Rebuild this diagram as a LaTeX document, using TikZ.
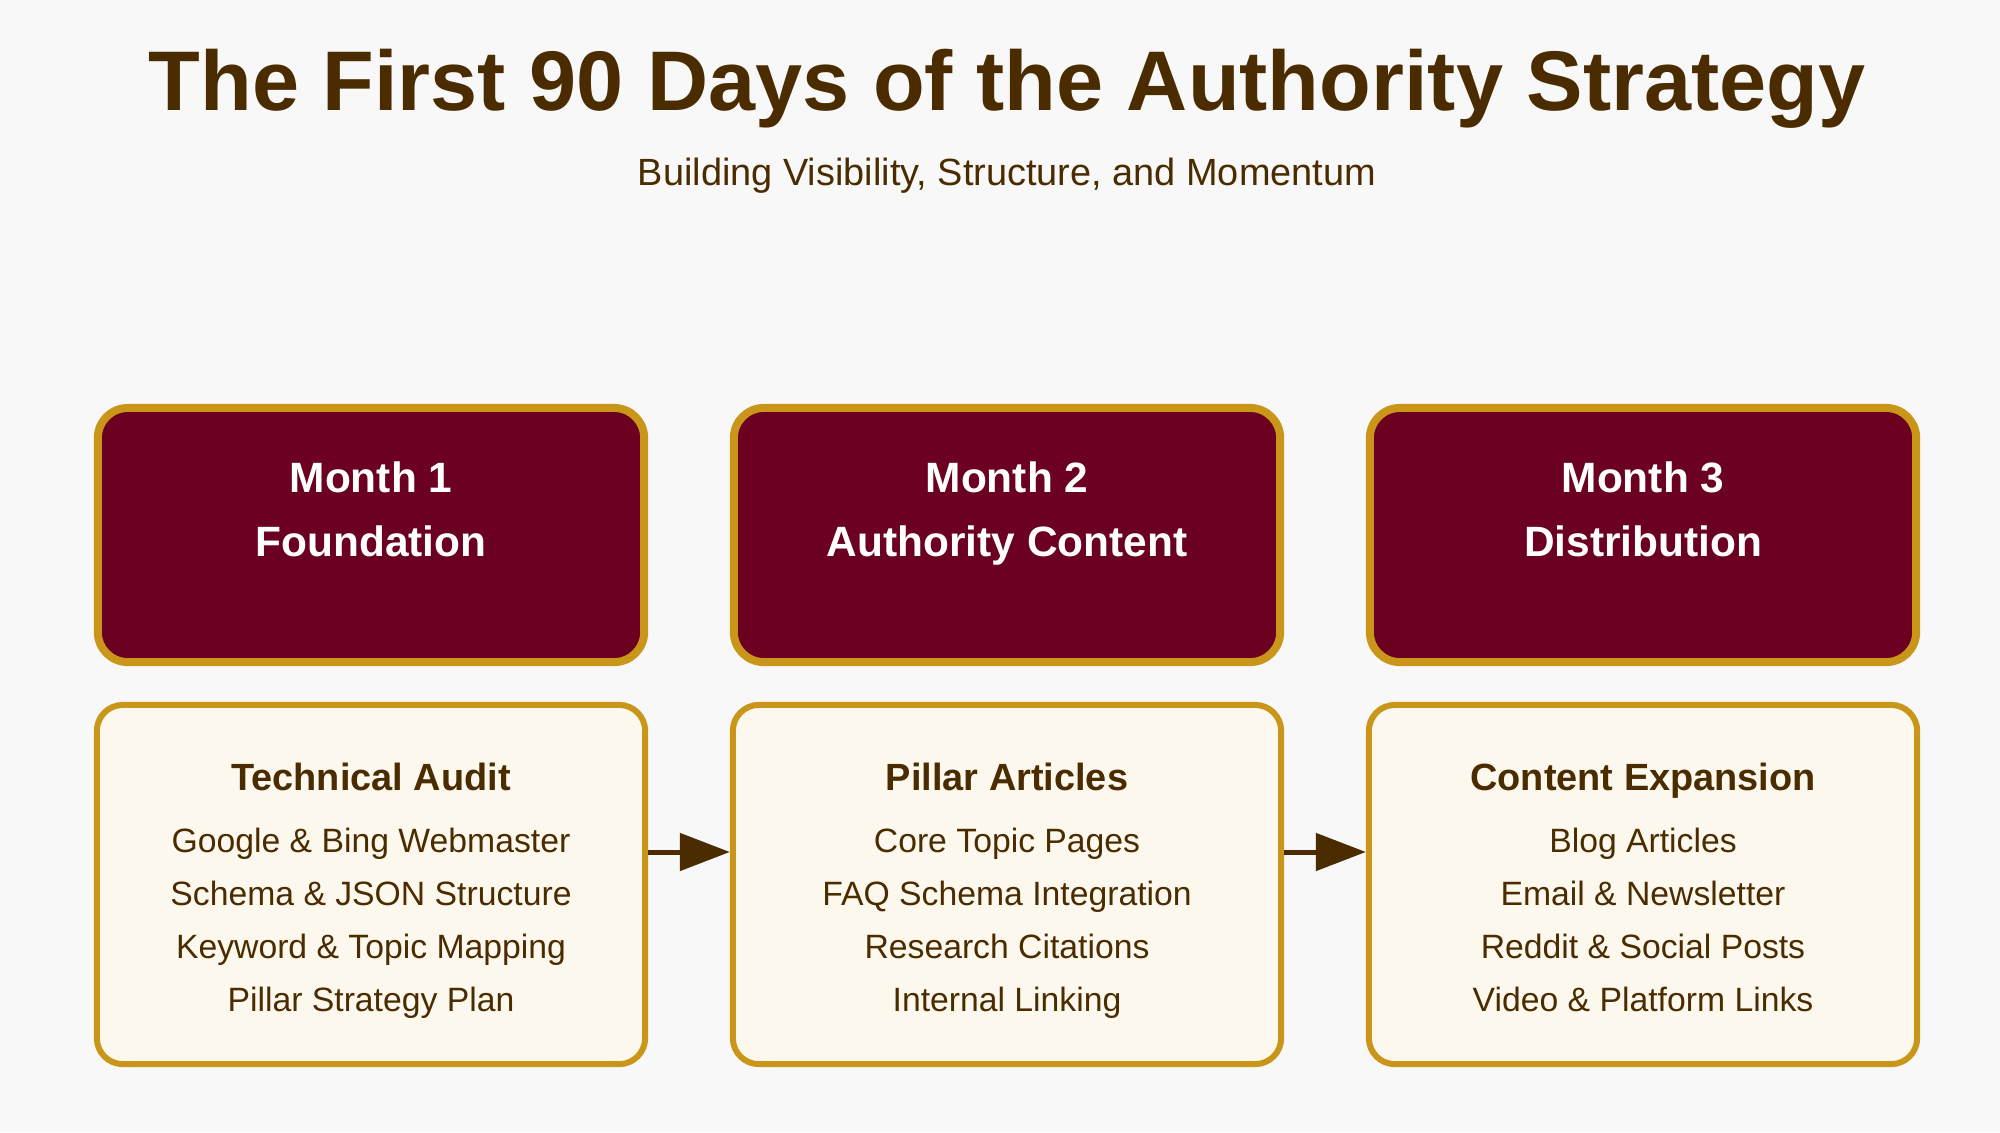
\documentclass[tikz,border=0pt]{standalone}
\usepackage{fontspec}
\setmainfont{Liberation Sans}
\usetikzlibrary{arrows.meta,positioning}
\definecolor{bgwhite}{HTML}{F8F8F8}
\definecolor{maroon}{HTML}{6B0020}
\definecolor{gold}{HTML}{C9961A}
\definecolor{cream}{HTML}{FDF8EE}
\definecolor{darkbrown}{HTML}{4A2C00}

\begin{document}
\begin{tikzpicture}[x=0.01cm, y=-0.01cm,
    monthbox/.style={draw=gold, line width=0.08cm, rounded corners=0.3cm, fill=maroon, minimum width=5.46cm, minimum height=2.54cm},
    taskbox/.style={draw=gold, line width=0.06cm, rounded corners=0.26cm, fill=cream, minimum width=5.48cm, minimum height=3.59cm},
    monthtext/.style={anchor=north, inner sep=0pt, align=center, text=white, font=\fontsize{12.06}{18.2}\selectfont\bfseries},
    tasktext/.style={anchor=north, inner sep=0pt, align=center, text=darkbrown, font=\fontsize{9.59}{15.08}\selectfont},
    flow/.style={-{Triangle[length=0.5cm, width=0.37cm]}, line width=0.05cm, draw=darkbrown}]
    \fill[bgwhite] (0,0) rectangle (2000,1132);

    % title
    \node[anchor=base, text=darkbrown, font=\fontsize{24.07}{28}\selectfont\bfseries] (title) at (1007,110) {The First 90 Days of the Authority Strategy};
    \node[anchor=base, text=darkbrown, font=\fontsize{10.78}{13}\selectfont] (subtitle) at (1007,185) {Building Visibility, Structure, and Momentum};

    % month headers
    \node[monthbox] (m1) at (371,535) {};
    \node[monthbox] (m2) at (1007,535) {};
    \node[monthbox] (m3) at (1643,535) {};
    \node[monthtext] (m1text) at (371,461) {Month 1\\Foundation};
    \node[monthtext] (m2text) at (1007,461) {Month 2\\Authority Content};
    \node[monthtext] (m3text) at (1643,461) {Month 3\\Distribution};

    % tasks
    \node[taskbox] (t1) at (371,884.5) {};
    \node[taskbox] (t2) at (1007,884.5) {};
    \node[taskbox] (t3) at (1643,884.5) {};
    \node[tasktext] (t1text) at (371,762) {{\fontsize{10.78}{15.08}\selectfont\bfseries Technical Audit}\\[2.56pt]
        Google \& Bing Webmaster\\Schema \& JSON Structure\\Keyword \& Topic Mapping\\Pillar Strategy Plan};
    \node[tasktext] (t2text) at (1007,762) {{\fontsize{10.78}{15.08}\selectfont\bfseries Pillar Articles}\\[2.56pt]
        Core Topic Pages\\FAQ Schema Integration\\Research Citations\\Internal Linking};
    \node[tasktext] (t3text) at (1643,762) {{\fontsize{10.78}{15.08}\selectfont\bfseries Content Expansion}\\[2.56pt]
        Blog Articles\\Email \& Newsletter\\Reddit \& Social Posts\\Video \& Platform Links};

    \draw[flow] ([yshift=0.325cm]t1.east) -- ([yshift=0.325cm]t2.west);
    \draw[flow] ([yshift=0.325cm]t2.east) -- ([yshift=0.325cm]t3.west);
\end{tikzpicture}
\end{document}
